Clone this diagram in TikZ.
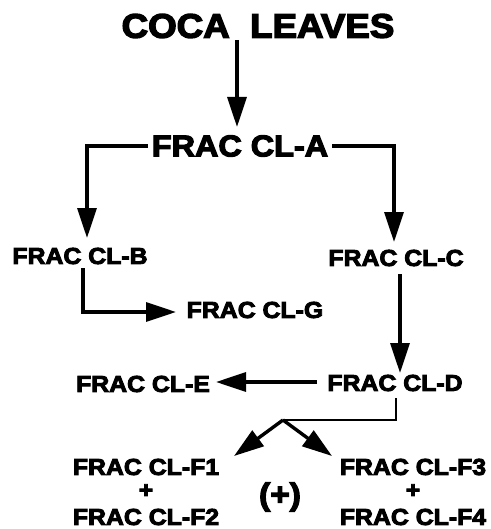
\documentclass[tikz,border=0pt]{standalone}
\usepackage{fontspec}
\newfontfamily\heavy{Liberation Sans Bold}[FakeBold=4,FakeStretch=1.08]
\usetikzlibrary{arrows.meta}
\begin{document}
\begin{tikzpicture}[x=1pt,y=-1pt,
  lbl/.style={inner sep=0pt,font=\heavy\fontsize{23}{23}\selectfont},
  conn/.style={line width=3.4pt,line join=miter},
  arr/.style={conn,-{Triangle[length=30pt,width=19pt]}}]
\useasboundingbox (0,0) rectangle (490,529);
\node[inner sep=0pt,font=\heavy\fontsize{34}{34}\selectfont] (coca) at (258,26) {COCA\ \ LEAVES};
\node[inner sep=0pt,font=\heavy\fontsize{30}{30}\selectfont] (A) at (240,146) {FRAC CL-A};
\node[lbl] (B) at (80,256) {FRAC CL-B};
\node[lbl] (C) at (396,258) {FRAC CL-C};
\node[lbl] (G) at (255,310) {FRAC CL-G};
\node[lbl] (D) at (395,383) {FRAC CL-D};
\node[lbl] (E) at (143,384) {FRAC CL-E};
\node[lbl] (F1) at (146,467) {FRAC CL-F1};
\node[lbl] (p1) at (146,491) {+};
\node[lbl] (F2) at (146,517) {FRAC CL-F2};
\node[lbl] (F3) at (413,467) {FRAC CL-F3};
\node[lbl] (p2) at (413,491) {+};
\node[lbl] (F4) at (413,517) {FRAC CL-F4};
\node[inner sep=0pt,font=\heavy\fontsize{31}{31}\selectfont] (plus) at (280,497) {(+)};
% connector end points
\coordinate (cocaOut) at (237,40);
\coordinate (Ain) at (237,127);
\coordinate (AoutL) at (148,146);
\coordinate (Bin) at (87,238);
\coordinate (AoutR) at (332,146);
\coordinate (Cin) at (394,242);
\coordinate (Bout) at (83,268);
\coordinate (Gin) at (176,312);
\coordinate (Cout) at (400,274);
\coordinate (Din) at (400,373);
\coordinate (DoutL) at (317,382);
\coordinate (Ein) at (216,382);
\coordinate (Dout) at (396,398);
\coordinate (fork) at (283,420);
\coordinate (F12in) at (234,456);
\coordinate (F34in) at (332,456);
% connectors
\draw[arr] (cocaOut) -- (Ain);
\draw[arr] (AoutL) -| (Bin);
\draw[arr] (AoutR) -| (Cin);
\draw[arr] (Bout) |- (Gin);
\draw[arr] (Cout) -- (Din);
\draw[arr] (DoutL) -- (Ein);
\draw[conn,line width=2.4pt] (Dout) |- (fork);
\draw[arr] (fork) -- (F12in);
\draw[arr] (fork) -- (F34in);
\end{tikzpicture}
\end{document}
